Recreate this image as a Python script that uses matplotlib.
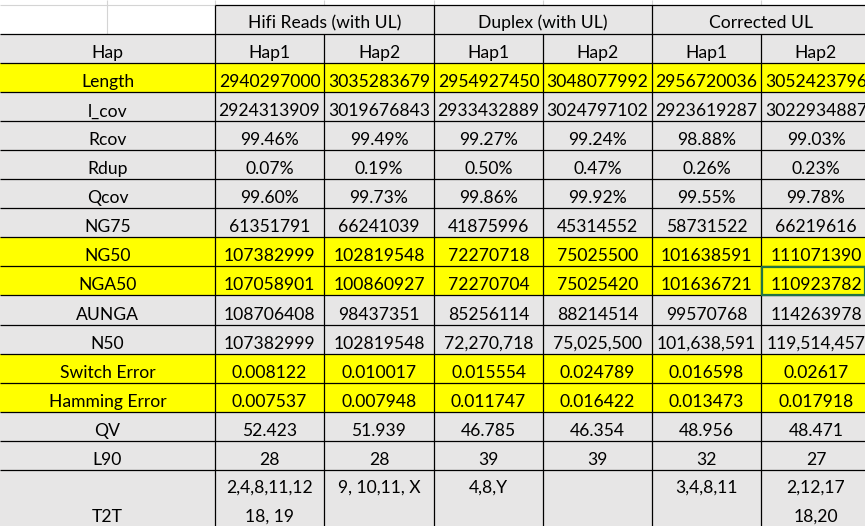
import matplotlib
matplotlib.use("Agg")
import matplotlib.pyplot as plt
from matplotlib.patches import Rectangle

# ---------------- data ----------------
groups = ["Hifi Reads (with UL)", "Duplex (with UL)", "Corrected UL"]
haps = ["Hap1", "Hap2"]
row_labels = ["Length", "l_cov", "Rcov", "Rdup", "Qcov", "NG75", "NG50", "NGA50",
              "AUNGA", "N50", "Switch Error", "Hamming Error", "QV", "L90", "T2T"]
highlight_rows = ["Length", "NG50", "NGA50", "Switch Error", "Hamming Error"]

hifi_hap1 = ["2940297000", "2924313909", "99.46%", "0.07%", "99.60%", "61351791",
             "107382999", "107058901", "108706408", "107382999", "0.008122",
             "0.007537", "52.423", "28", "2,4,8,11,12\n18, 19"]
hifi_hap2 = ["3035283679", "3019676843", "99.49%", "0.19%", "99.73%", "66241039",
             "102819548", "100860927", "98437351", "102819548", "0.010017",
             "0.007948", "51.939", "28", "9, 10,11, X"]
duplex_hap1 = ["2954927450", "2933432889", "99.27%", "0.50%", "99.86%", "41875996",
               "72270718", "72270704", "85256114", "72,270,718", "0.015554",
               "0.011747", "46.785", "39", "4,8,Y"]
duplex_hap2 = ["3048077992", "3024797102", "99.24%", "0.47%", "99.92%", "45314552",
               "75025500", "75025420", "88214514", "75,025,500", "0.024789",
               "0.016422", "46.354", "39", ""]
corr_hap1 = ["2956720036", "2923619287", "98.88%", "0.26%", "99.55%", "58731522",
             "101638591", "101636721", "99570768", "101,638,591", "0.016598",
             "0.013473", "48.956", "32", "3,4,8,11"]
corr_hap2 = ["3052423796", "3022934887", "99.03%", "0.23%", "99.78%", "66219616",
             "111071390", "110923782", "114263978", "119,514,457", "0.02617",
             "0.017918", "48.471", "27", "2,12,17\n18,20"]
columns = [hifi_hap1, hifi_hap2, duplex_hap1, duplex_hap2, corr_hap1, corr_hap2]

# ---------------- layout ----------------
W, H = 865, 526
col_edges = [0, 215, 324, 434, 543, 652, 761, 871]
top = 5.3
rh = 29.02
hdr1 = (top, 34.3)
hdr2 = (34.3, 34.3 + rh)
body_top = 34.3 + rh
row_tops = [body_top + i * rh for i in range(len(row_labels))]
row_bots = [t + rh for t in row_tops]
row_bots[-1] = row_tops[-1] + 2 * rh  # T2T row is double height

GRAY = "#E7E6E6"
YELLOW = "#FFFF00"
GRID = "#D4D4D4"
FS = 12.6
FONT = "Lato"

fig = plt.figure(figsize=(W / 100, H / 100), dpi=100)
ax = fig.add_axes([0, 0, 1, 1])
ax.set_xlim(0, W)
ax.set_ylim(H, 0)
ax.axis("off")
fig.patch.set_facecolor("white")

def fill(x0, x1, y0, y1, c):
    ax.add_patch(Rectangle((x0, y0), x1 - x0, y1 - y0, facecolor=c,
                           edgecolor="none", zorder=1))

# fills
fill(col_edges[1], col_edges[-1], hdr1[0], hdr1[1], GRAY)
fill(0, col_edges[-1], hdr2[0], hdr2[1], GRAY)
for lab, t, b in zip(row_labels, row_tops, row_bots):
    fill(0, col_edges[-1], t, b, YELLOW if lab in highlight_rows else GRAY)

# light excel gridlines in the white area
ax.hlines(top, 0, col_edges[1], color=GRID, lw=0.8, zorder=2)
ax.vlines(107, 0, hdr1[1], color=GRID, lw=0.8, zorder=2)
for x in col_edges[1:-1]:
    ax.vlines(x, 0, top, color=GRID, lw=0.8, zorder=2)

# black borders
LW = 0.9
ax.hlines(top, col_edges[1], col_edges[-1], color="black", lw=LW, zorder=3)
for y in [hdr1[1], hdr2[1]] + row_bots:
    ax.hlines(y, 0, col_edges[-1], color="black", lw=LW, zorder=3)
for x in [col_edges[1], col_edges[3], col_edges[5]]:
    ax.vlines(x, top, H + 5, color="black", lw=LW, zorder=3)
for x in [col_edges[2], col_edges[4], col_edges[6]]:
    ax.vlines(x, hdr2[0], H + 5, color="black", lw=LW, zorder=3)

def txt(x, y, s):
    ax.text(x, y, s, ha="center", va="baseline", fontsize=FS, family=FONT,
            color="black", zorder=5, clip_on=True)

# group headers
for g, name in enumerate(groups):
    cx = (col_edges[1 + 2 * g] + col_edges[3 + 2 * g]) / 2
    txt(cx, hdr1[1] - 6, name)
# hap header row
txt(col_edges[1] / 2, hdr2[1] - 5, "Hap")
for c in range(6):
    cx = (col_edges[1 + c] + col_edges[2 + c]) / 2
    txt(cx, hdr2[1] - 5, haps[c % 2])

# body
for r, lab in enumerate(row_labels):
    t, b = row_tops[r], row_bots[r]
    if lab == "T2T":
        txt(col_edges[1] / 2, b - 6, lab)
    else:
        txt(col_edges[1] / 2, b - 5, lab)
    for c, col in enumerate(columns):
        cx = (col_edges[1 + c] + col_edges[2 + c]) / 2
        s = col[r]
        if lab == "T2T":
            for i, line in enumerate(s.split("\n")):
                txt(cx, t + rh - 6 + i * rh, line)
        else:
            txt(cx, b - 5, s)

# selected cell (NGA50, Corrected UL Hap2)
ri = row_labels.index("NGA50")
ax.add_patch(Rectangle((col_edges[6] + 0.5, row_tops[ri] + 0.5),
                       col_edges[7] - col_edges[6] - 7, rh - 1,
                       facecolor="none", edgecolor="#217346", lw=1.6, zorder=6))

fig.savefig("out.png", dpi=100, facecolor="white")
